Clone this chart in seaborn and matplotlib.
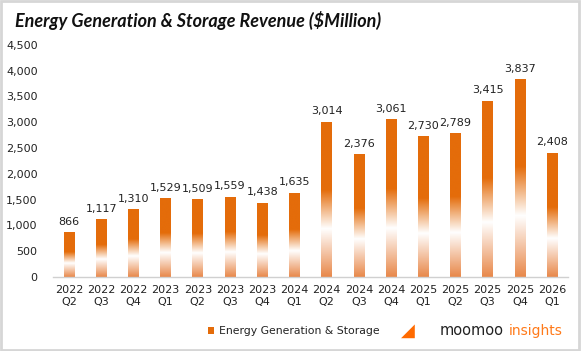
import numpy as np
import matplotlib
matplotlib.use("Agg")
import matplotlib.pyplot as plt
import seaborn as sns
from matplotlib.colors import LinearSegmentedColormap
from matplotlib.patches import Rectangle, Patch

years = ["2022", "2022", "2022", "2023", "2023", "2023", "2023", "2024",
         "2024", "2024", "2024", "2025", "2025", "2025", "2025", "2026"]
quarters = ["Q2", "Q3", "Q4", "Q1", "Q2", "Q3", "Q4", "Q1",
            "Q2", "Q3", "Q4", "Q1", "Q2", "Q3", "Q4", "Q1"]
revenue = [866, 1117, 1310, 1529, 1509, 1559, 1438, 1635,
           3014, 2376, 3061, 2730, 2789, 3415, 3837, 2408]
yticks = [0, 500, 1000, 1500, 2000, 2500, 3000, 3500, 4000, 4500]
title = "Energy Generation & Storage Revenue ($Million)"
series_name = "Energy Generation & Storage"

ORANGE = "#E46C0A"
labels = [f"{y}\n{q}" for y, q in zip(years, quarters)]

sns.set_theme(style="white")
plt.rcParams["font.family"] = ["DejaVu Sans"]

fig = plt.figure(figsize=(5.81, 3.51), dpi=100)
ax = fig.add_axes([0.091, 0.211, 0.887, 0.661])

sns.barplot(x=labels, y=revenue, color=ORANGE, width=0.33, ax=ax, saturation=1)

cmap = LinearSegmentedColormap.from_list(
    "grad", [(0.0, "#E8884A"), (0.31, "#FFFFFF"), (0.56, ORANGE), (1.0, ORANGE)])
grad = np.linspace(0, 1, 256).reshape(-1, 1)
for p in ax.patches:
    x0, y0 = p.get_x(), p.get_y()
    w, h = p.get_width(), p.get_height()
    p.set_facecolor("none")
    p.set_edgecolor("none")
    im = ax.imshow(grad, cmap=cmap, aspect="auto", origin="lower",
                   extent=[x0, x0 + w, y0, y0 + h], zorder=2, interpolation="bilinear")
    im.set_clip_path(p)
    ax.annotate(f"{int(round(h)):,}", (x0 + w / 2, y0 + h), xytext=(0, 4),
                textcoords="offset points", ha="center", va="bottom",
                fontsize=8, color="#222222")
ax.set_xlim(-0.5, len(labels) - 0.5)
ax.set_ylim(0, 4500)

ax.set_yticks(yticks)
ax.set_yticklabels([f"{v:,}" for v in yticks], fontsize=8, color="#222222")
ax.tick_params(axis="x", labelsize=8, colors="#222222", length=0, pad=6)
ax.tick_params(axis="y", length=0, pad=11)
ax.set_xlabel("")
ax.set_ylabel("")
for s in ["top", "right", "left"]:
    ax.spines[s].set_visible(False)
ax.spines["bottom"].set_color("#D0D0D0")
ax.spines["bottom"].set_linewidth(1.0)
ax.grid(False)

fig.text(0.026, 0.943, title, fontsize=13, fontweight="bold", fontstyle="italic",
         family=["Lato", "DejaVu Sans"], color="#111111", ha="left", va="center")

leg = fig.legend(handles=[Patch(facecolor=ORANGE, edgecolor="none")], labels=[series_name],
                 loc="center", bbox_to_anchor=(0.505, 0.057), frameon=False,
                 fontsize=7.8, handlelength=0.6, handleheight=0.6, handletextpad=0.4)
for t in leg.get_texts():
    t.set_color("#222222")

fig.text(0.757, 0.057, "moomoo", fontsize=10.5, color="#222222",
         ha="left", va="center")
fig.text(0.875, 0.057, "insights", fontsize=10, color="#FF7A1A",
         ha="left", va="center")
fig.text(0.690, 0.057, "\u25E2", fontsize=13, color="#FF6A00", ha="left", va="center")

fig.patches.append(Rectangle((0.002, 0.003), 0.994, 0.993, transform=fig.transFigure,
                             fill=False, edgecolor="#D6D6D6", linewidth=2.0))

fig.savefig("out.png", dpi=100)
